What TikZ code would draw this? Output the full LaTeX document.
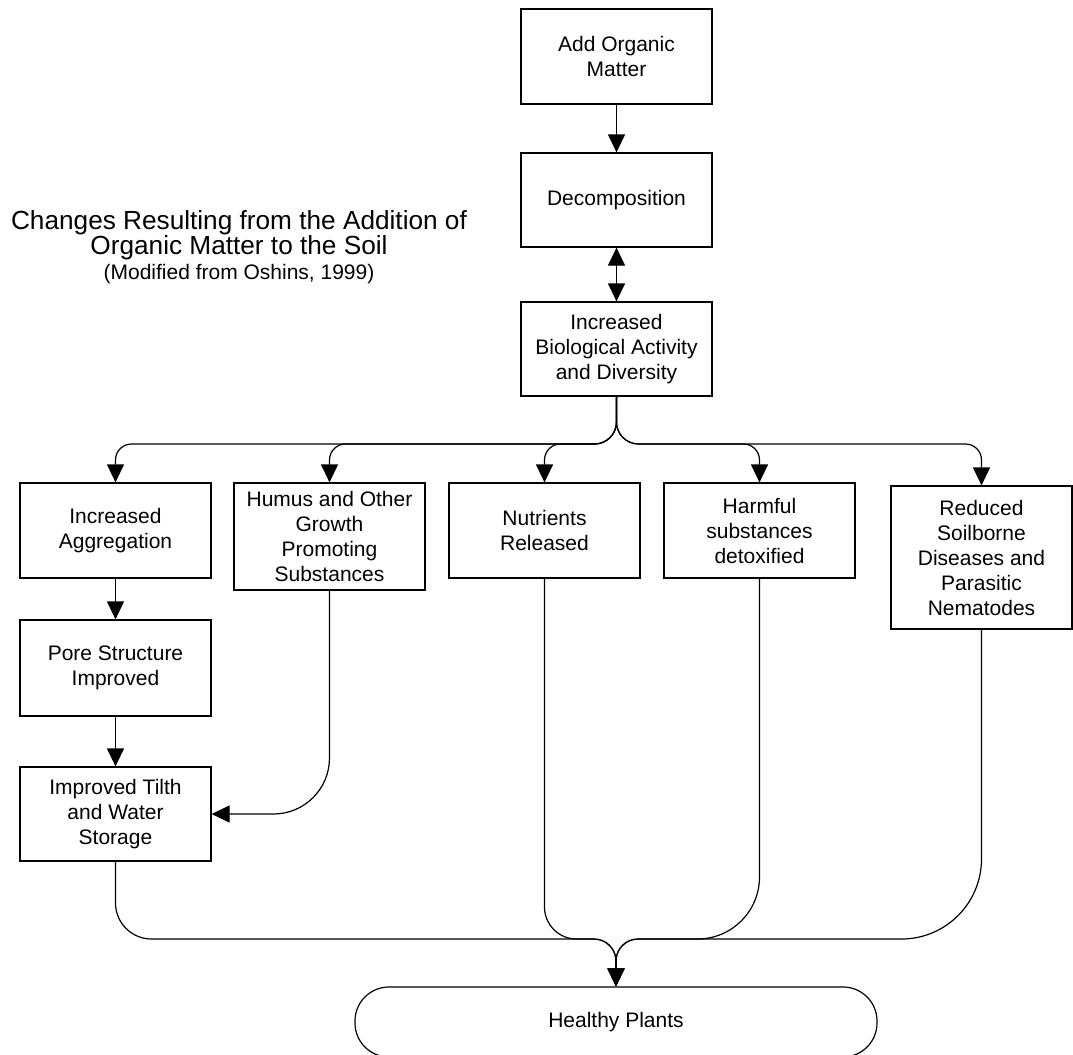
\documentclass[tikz,border=0pt]{standalone}
\usepackage{fontspec}
\setmainfont{Liberation Sans}
\usetikzlibrary{arrows.meta}

\begin{document}
\begin{tikzpicture}[x=0.5pt,y=-0.5pt,
 box/.style={draw,line width=0.6pt,minimum width=95.5pt,align=center,inner sep=0pt,font=\fontsize{10.5}{12.5}\selectfont},
 link/.style={line width=0.6pt},
 tip/.style={-{Triangle[length=9pt,width=8.5pt]}},
 twotip/.style={{Triangle[length=9pt,width=8.5pt]}-{Triangle[length=9pt,width=8.5pt]}}]
 \useasboundingbox (0,0) rectangle (1073,1055);
 \node (title) at (239,247) [align=center,inner sep=0pt,font=\fontsize{13.1}{12.5}\selectfont] {Changes Resulting from the Addition of\\Organic Matter to the Soil\\{\fontsize{10.5}{12.5}\selectfont(Modified from Oshins, 1999)}};
 \node (add) at (616.5,56.5) [box,minimum height=47.5pt] {Add Organic\\Matter};
 \node (decomp) at (616.5,200) [box,minimum height=47pt] {Decomposition};
 \node (bio) at (616.5,349) [box,minimum height=47pt] {Increased\\Biological Activity\\and Diversity};
 \node (agg) at (115.5,530.5) [box,minimum height=47.5pt] {Increased\\Aggregation};
 \node (humus) at (329.5,536.5) [box,minimum height=53.5pt] {Humus and Other\\Growth\\Promoting\\Substances};
 \node (nutr) at (544.5,530.5) [box,minimum height=47.5pt] {Nutrients\\Released};
 \node (harm) at (759.5,530.5) [box,minimum height=47.5pt] {Harmful\\substances\\detoxified};
 \node (red) at (981.5,557.5) [box,minimum width=90.5pt,minimum height=71.5pt] {Reduced\\Soilborne\\Diseases and\\Parasitic\\Nematodes};
 \node (pore) at (115.5,668) [box,minimum height=48pt] {Pore Structure\\Improved};
 \node (tilth) at (115.5,814) [box,minimum height=47pt] {Improved Tilth\\and Water\\Storage};
 \node (plants) at (616,1022) [box,minimum width=261pt,minimum height=35pt,rounded corners=17pt] {Healthy Plants};
 \coordinate (split) at (616.5,444);
 \coordinate (join) at (616,939);
 \draw [link,tip] (add) -- (decomp);
 \draw [link,twotip] (decomp) -- (bio);
 \draw [link,tip] (bio.south) [rounded corners=11pt] -- (split) [rounded corners=8pt] -| (agg.north);
 \draw [link,tip] (bio.south) [rounded corners=11pt] -- (split) [rounded corners=8pt] -| (humus.north);
 \draw [link,tip] (bio.south) [rounded corners=11pt] -- (split) [rounded corners=8pt] -| (nutr.north);
 \draw [link,tip] (bio.south) [rounded corners=11pt] -- (split) [rounded corners=8pt] -| (harm.north);
 \draw [link,tip] (bio.south) [rounded corners=11pt] -- (split) [rounded corners=8pt] -| (red.north);
 \draw [link,tip] (agg) -- (pore);
 \draw [link,tip] (pore) -- (tilth);
 \draw [link,tip,rounded corners=28pt] (humus.south) |- (tilth.east);
 \draw [link,tip] (tilth.south) [rounded corners=18pt] -- (tilth.south |- join) [rounded corners=11pt] -- (join) -- (plants.north);
 \draw [link,tip] (nutr.south) [rounded corners=16pt] -- (nutr.south |- join) [rounded corners=11pt] -- (join) -- (plants.north);
 \draw [link,tip] (harm.south) [rounded corners=31pt] -- (harm.south |- join) [rounded corners=11pt] -- (join) -- (plants.north);
 \draw [link,tip] (red.south) [rounded corners=40pt] -- (red.south |- join) [rounded corners=11pt] -- (join) -- (plants.north);
\end{tikzpicture}
\end{document}
